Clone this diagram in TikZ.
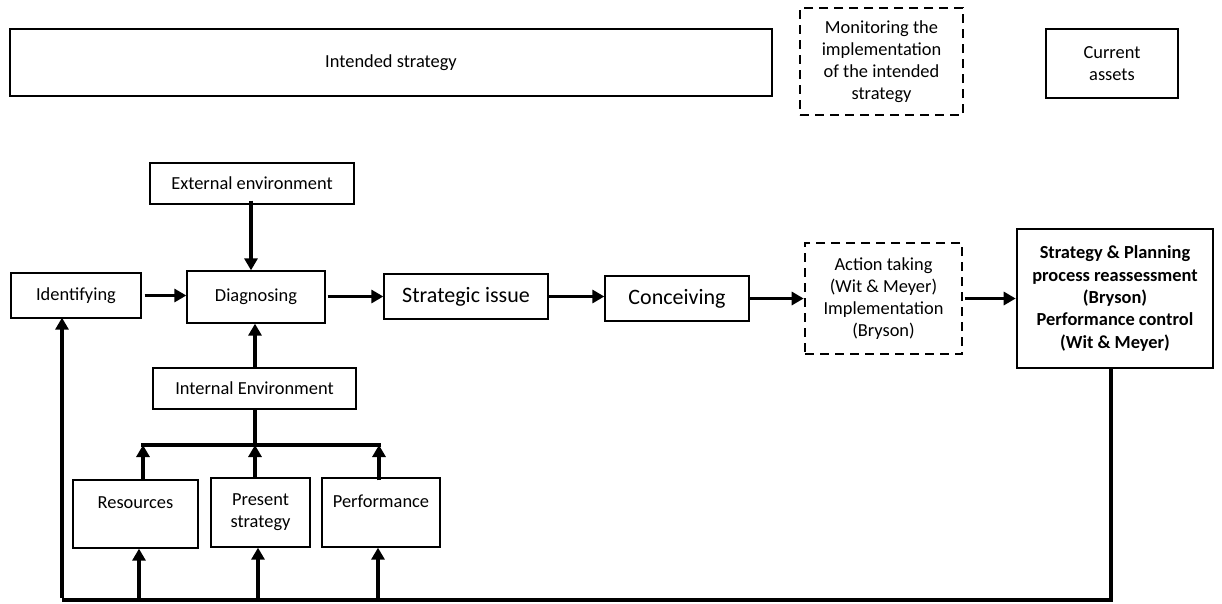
\documentclass[tikz,border=0pt]{standalone}
\usepackage{fontspec}
\setmainfont{Carlito}
\usetikzlibrary{arrows.meta}
\begin{document}
\begin{tikzpicture}[x=1pt,y=-1pt,
  box/.style={draw, line width=1.3pt, align=center, inner sep=0pt,
    font=\fontsize{18.4}{22}\selectfont},
  bigbox/.style={box, font=\fontsize{22}{26}\selectfont},
  dashbox/.style={box, line width=2.6pt, dash pattern=on 9pt off 6pt},
  flow/.style={line width=3.9pt, -{Triangle[length=12pt,width=13pt]}},
  wire/.style={line width=3.9pt}]
\useasboundingbox (0,0) rectangle (1222,603);

% top row
\node[box, line width=2.6pt, minimum width=762pt, minimum height=67pt] (intended) at (391,62.5) {Intended strategy};
\node[dashbox, minimum width=163pt, minimum height=107pt] (monitor) at (881.5,61.5)
  {Monitoring the\\implementation\\of the intended\\strategy};
\node[box, line width=2.2pt, minimum width=132pt, minimum height=69pt] (assets) at (1112,63.5) {Current\\assets};

% main process chain
\node[box, minimum width=204pt, minimum height=41pt] (external) at (252,183.5) {External environment};
\node[box, minimum width=130pt, minimum height=45pt] (identify) at (76,295.5) {Identifying};
\node[box, minimum width=138pt, minimum height=52pt] (diagnose) at (256,297) {Diagnosing};
\node[bigbox, minimum width=164pt, minimum height=45pt] (issue) at (466,296.5) {Strategic issue};
\node[bigbox, minimum width=144pt, minimum height=45pt] (conceive) at (677,298.5) {Conceiving};
\node[dashbox, minimum width=157pt, minimum height=111pt] (action) at (883.5,298.5)
  {Action taking\\(Wit \& Meyer)\\Implementation\\(Bryson)};
\node[box, line width=2.6pt, minimum width=196pt, minimum height=139pt,
  font=\fontsize{18.4}{22.4}\selectfont\bfseries] (reassess) at (1115,298.5)
  {Strategy \& Planning\\process reassessment\\(Bryson)\\Performance control\\(Wit \& Meyer)};

% internal environment and its parts
\node[box, minimum width=203pt, minimum height=41pt] (internal) at (254.5,388.5) {Internal Environment};
\node[box, minimum width=125pt, minimum height=68pt] (resources) at (135.5,514) {Resources\\\mbox{}};
\node[box, minimum width=99pt, minimum height=69pt] (present) at (260.5,512.5) {Present\\strategy};
\node[box, minimum width=118pt, minimum height=69pt] (perform) at (381,512.5) {Performance\\\mbox{}};

% junction points
\coordinate (busL) at (143,445);
\coordinate (busM) at (255,445);
\coordinate (busR) at (379,445);
\coordinate (loopR) at (1111,600);
\coordinate (loopL) at (62,600);

% arrows along the chain
\draw[flow] ([xshift=3pt]identify.east) -- (diagnose.west |- identify.east);
\draw[flow] ([xshift=-1pt,yshift=4pt]external.south) -- ([xshift=-1pt]external.south |- diagnose.north);
\draw[flow] (internal.north -| busM) -- (diagnose.south -| busM);
\draw[flow] ([xshift=2pt]diagnose.east |- issue.west) -- (issue.west);
\draw[flow] (issue.east) -- (conceive.west |- issue.east);
\draw[flow] (conceive.east) -- (action.west |- conceive.east);
\draw[flow] ([xshift=2pt]action.east) -- (reassess.west);

% internal environment collector
\draw[wire] (internal.south -| busM) -- (busM);
\draw[wire] ([xshift=-1.9pt]busL) -- ([xshift=1.9pt]busR);
\draw[flow] (resources.north -| busL) -- (busL);
\draw[flow] (present.north -| busM) -- (busM);
\draw[flow] ([yshift=-3pt]perform.north -| busR) -- (busR);

% feedback loop
\draw[wire] (reassess.south -| loopR) -- (loopR) -- (loopL);
\draw[flow] ([yshift=1.9pt]loopL) -- ([yshift=1pt]loopL |- identify.south);
\draw[flow] (loopL -| 139,0) -- (resources.south -| 139,0);
\draw[flow] (loopL -| 258,0) -- (present.south -| 258,0);
\draw[flow] (loopL -| 378,0) -- (perform.south -| 378,0);
\end{tikzpicture}
\end{document}
